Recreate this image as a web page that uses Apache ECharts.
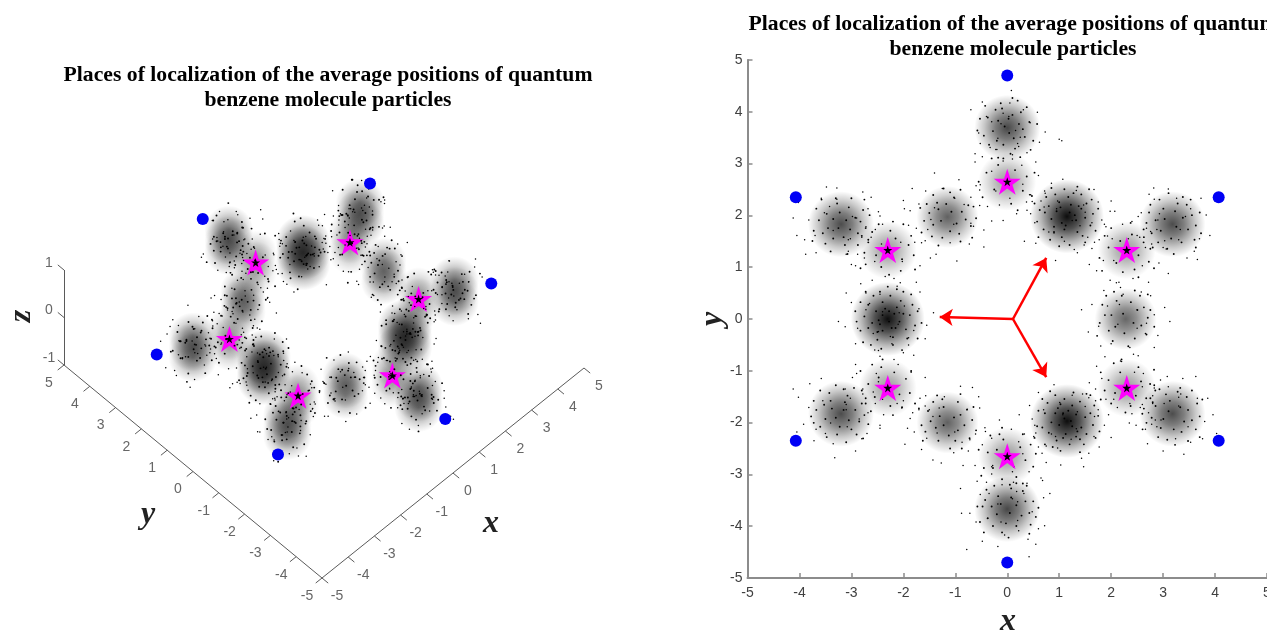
<!DOCTYPE html>
<html><head><meta charset="utf-8">
<style>html,body{margin:0;padding:0;background:#fff}#c{width:1267px;height:632px}</style>
<script src="https://cdn.jsdelivr.net/npm/echarts@6/dist/echarts.min.js"></script>
</head><body><div id="c"></div>
<script>
const titleText='Places of localization of the average positions of quantum\nbenzene molecule particles';
const axisTicks=[-5,-4,-3,-2,-1,0,1,2,3,4,5];
const zTicks=[-1,0,1];
const blueX=[0,4.07,4.07,0,-4.07,-4.07];
const blueY=[4.7,2.35,-2.35,-4.7,-2.35,2.35];
const starX=[0,2.3,2.3,0,-2.3,-2.3];
const starY=[2.65,1.33,-1.33,-2.65,-1.33,1.33];
const arrowOrigin=[0.11,0];
const arrowTips=[[0.75,1.18],[-1.3,0.04],[0.75,-1.12]];
const centerX=[0,0,1.15,2.3,3.18,2.28,2.3,3.18,1.15,0,0,-1.15,-2.3,-3.2,-2.3,-2.3,-3.2,-1.15];
const centerY=[3.69,2.65,1.98,1.33,1.83,0,-1.33,-1.83,-1.97,-2.65,-3.67,-2,-1.33,-1.83,0,1.33,1.83,1.97];
const coreAlpha=[.72,.4,.95,.4,.7,.6,.4,.7,.95,.4,.72,.62,.4,.7,.95,.4,.7,.62];
const coreSpan=[66,58,74,58,66,62,58,66,74,58,66,62,58,66,74,58,66,62];
// outer dot offsets from each cloud centre, hundredths of a unit: x,y,z triples
const cloud0=[-12,8,20,25,-18,-30,-40,22,11,5,48,-25,31,35,14,-55,-10,35,62,-28,-12,-22,-42,40,10,-60,-5,44,10,30,-70,35,-20,16,-5,-48,-33,-38,5,58,30,22,-8,28,52,105,-25,10,-48,50,-30,73,-8,18,-18,-20,-38,38,-48,-14,3,22,28,-30,12,-55,100,-22,30,-62,-50,15,20,-30,-44,-52,-30,24,8,72,6,-35];
const cloud1=[-30,20,15,28,32,-22,-52,-6,30,45,-25,8,-15,-45,-35,10,52,22,60,12,-40,-62,38,10,-38,-48,-8,38,-55,42,-8,40,-50,55,38,18,-48,48,-22,18,-62,5,-20,62,-30,72,-18,25,-70,-30,-15,5,-32,28,30,-5,-40,-22,-18,48,48,-38,-28,-60,-8,12,22,68,8,-8,-75,20];
const cloud2=[10,-8,-35,-20,15,28,32,22,10,-35,-30,-22,48,-12,42,-50,30,-35,18,50,-8,-5,-48,22,60,28,-25,-62,-12,8,40,-40,30,-42,45,18,-70,5,-32,72,-15,10,20,-70,-45,-30,64,25,52,52,-14,-60,-52,35,25,-18,-10,-18,30,40,-82,-48,-25,85,30,18,-44,18,-55,14,-64,30,-8,72,-10,62,-45,-22,-25,-32,16,35,8,-48,-72,42,12,78,-38,-30,-22,-85,18,48,-62,40,-78,28,-5,92,10,35];
const cloud3=[-28,22,18,30,-30,28,-45,-20,-32,48,12,-18,-8,50,-40,12,-55,32,62,-25,10,-62,15,12,-40,45,-24,38,42,35,-15,-62,-12,58,40,20,-58,-40,38,70,5,-36,-72,-28,-4,22,65,8,-25,-20,-42,25,25,-8,-12,-72,28,80,-45,15,-48,58,30,-32,75,-20,42,-62,-25,-82,10,30];
const cloud4=[15,-10,30,-25,20,-22,35,30,-18,-42,-14,28,8,50,-36,52,-28,14,-12,-48,40,-60,22,-8,65,18,-32,-35,48,10,42,-52,25,-68,-22,34,28,-65,-10,72,-22,6,-8,68,-28,-52,-45,-30,55,50,22,-78,5,-40,82,45,8,12,-30,-38,-28,8,18,25,15,-12,-15,-32,38,90,58,-15,-36,70,32,48,-68,-20,-45,58,-12,-85,-28,20];
const cloud5=[-15,-10,25,22,18,-30,-35,25,12,38,-28,30,-5,48,-42,8,-55,34,-52,-14,-22,55,8,-8,-28,-48,40,30,52,15,62,-32,-25,-65,28,20,-42,55,-34,48,45,32,-18,70,10,15,-68,-18,75,22,14,-72,-25,-12,-48,-52,22,55,-55,-32,-30,75,28,85,-5,25,-8,-82,-20,-85,18,8,22,-18,-8,-12,28,-30,40,-8,-40];
const cloud6=[-25,-22,20,32,28,-28,-48,18,-12,50,-15,35,10,-50,-30,-12,52,22,-60,-25,30,65,15,-18,-35,-52,-42,42,-48,12,-58,42,-8,22,62,-32,72,-30,30,-72,10,-22,5,-68,38,-18,-38,5,30,-32,-24,15,30,-36,78,22,12,-42,60,28,48,-70,-25,-62,-55,16,-85,-12,-10,55,-62,40];
const cloud7=[12,15,-22,-22,-12,32,30,-25,18,-38,20,-30,6,-48,38,48,30,-18,-52,-30,22,-8,52,14,62,-15,30,-62,12,-28,35,-55,-40,-35,50,38,68,30,-8,-70,-22,15,20,68,-30,-48,-58,8,58,-48,26,-18,-72,-18,78,-2,34,-82,20,28,22,-78,-42,45,72,-12,-30,-25,-38,16,38,40,-58,52,-30,85,-38,-5,12,32,44];
const cloud8=[-8,12,-30,18,-15,28,-30,-25,35,35,28,-12,-45,22,-40,10,50,22,-18,-52,-18,52,-30,38,60,22,-35,-62,-8,15,-40,-48,45,42,45,8,-72,30,-25,72,-8,30,-25,70,32,28,-72,-48,-55,55,-8,62,-50,-20,-82,-25,28,85,-32,12,-12,-85,-36,42,-62,-42,-48,-62,20,75,42,-12,20,18,-15,-22,-30,-10,-14,36,40,8,-35,-15,55,62,28,-64,-30,45,32,-88,22,-92,12,-18];
const cloud9=[22,28,-18,-30,-20,30,42,-30,-32,-48,22,12,8,52,35,-10,-55,-30,60,18,25,-62,-18,-12,38,-52,40,-42,48,-28,55,45,-8,-58,-48,20,18,-68,-22,-15,70,15,75,-12,-38,-72,32,28,-28,-18,-8,30,5,42,10,-30,-40,-35,-72,18,65,-42,-15,-85,-18,8,48,72,-22,20,-88,30];
const cloud10=[-18,10,25,20,-22,-28,-38,-18,30,32,30,-15,-5,-50,-32,48,-5,42,-52,28,10,12,52,-42,60,-38,-12,-60,-25,-30,40,-58,22,-40,52,38,70,22,12,-72,-8,-20,-18,-72,36,82,30,-25,-30,68,-8,55,-68,-34,-48,-62,14,-88,-8,20,-78,-78,10,42,-92,-24,68,55,25,72,-32,-38,10,20,-10,-12,-25,18,22,-42,42,-90,40,8];
const cloud11=[14,-18,30,-28,12,-25,38,26,8,-40,-30,28,-6,50,-35,54,-22,-12,-55,25,18,12,-58,38,62,28,-22,-64,-18,8,-42,52,30,40,-55,-30,72,-10,24,-72,8,-36,-28,-72,-15,25,70,12,-50,-52,-30,60,50,22,85,-30,8,-82,-42,28,-20,-20,-12,28,-38,44,-16,28,-35,-12,-78,30,-88,28,-12,48,68,-22];
const cloud12=[-22,28,20,30,-25,-30,-48,-12,-20,45,30,15,-8,-52,38,12,55,-28,-60,28,22,62,-20,-12,-38,-48,-35,48,-48,30,-62,45,-10,30,68,15,72,20,-24,-72,-20,30,-15,-72,12,-28,-8,-38,18,-30,30,72,-35,8,-80,-42,-12,-18,72,-30,80,-42,22,38,-78,-25];
const cloud13=[10,18,-28,-20,-18,30,35,-10,22,-35,25,-20,8,48,35,-48,-30,14,50,-38,-25,-62,12,-8,66,20,18,-15,-58,-32,-52,-52,32,42,48,-14,-72,-20,-34,75,-28,28,22,70,12,-38,68,-28,28,-72,38,-82,32,8,-85,-35,22,80,28,-38,-12,-85,-22,-92,48,34,-30,-38,-30,40,-48,48,-60,58,22,12,-25,-42,72,62,10];
const cloud14=[-10,14,28,20,-10,-32,-28,-28,25,32,25,10,-42,18,-38,8,-48,40,-15,48,-18,50,-22,-30,-58,-18,22,60,20,24,-25,-60,-28,40,-50,12,-42,50,36,24,70,-10,-70,32,-15,75,-12,32,-15,-72,28,-62,-48,-28,62,52,-22,-82,-15,12,88,12,-30,-5,82,34,-80,50,-30,50,-70,20,20,-88,-8,-52,68,-42,-95,-5,10,72,-38,-24,22,12,-15,-18,-24,-12,5,-34,38,40,-36,28,-35,30,-36];
const cloud15=[28,-22,20,-32,25,-28,-45,-15,18,52,15,-32,-10,50,38,12,-55,-18,-62,-30,30,62,-30,14,-42,45,-36,40,48,22,-15,66,-10,18,-70,32,72,18,-26,-72,22,10,-25,-22,-42,25,15,40,-30,-58,-22,-80,-8,18,82,-15,12,-60,62,-32,55,-62,24,32,80,-18];
const cloud16=[-15,-12,25,22,15,-28,-32,22,18,40,-25,-18,-8,48,-34,-50,-22,12,52,30,28,14,-52,36,-62,8,-25,66,-10,20,-38,50,38,32,-58,-12,-70,-30,20,72,24,-40,-8,70,30,-48,-55,-22,58,52,-10,78,-38,24,-85,-22,-12,-28,72,8,-82,42,30,20,-78,-32,42,62,42,-68,-58,-28,14,-30,-30,-22,34,40,-92,12,-8];
const cloud17=[12,-14,-28,-25,18,30,32,24,-14,-38,-24,26,5,-50,-36,50,-18,14,-55,25,-18,-10,55,40,62,22,-25,-60,-22,10,42,-52,32,-42,50,-30,70,-25,-12,-72,12,30,22,72,18,-22,-72,-34,-50,-50,22,62,52,8,85,-8,-28,-85,32,-18,18,-85,28,-25,85,-15,45,-12,-32,-32,-5,-30,14,36,22,-68,55,12,70,-58,-30];
const clouds=[cloud0,cloud1,cloud2,cloud3,cloud4,cloud5,cloud6,cloud7,cloud8,cloud9,cloud10,cloud11,cloud12,cloud13,cloud14,cloud15,cloud16,cloud17];
// inner dot offsets, eightieths of a unit: x,y pairs
const inner0=[3,-8,-14,11,18,6,-22,-5,8,20,-6,-26,27,-14,-30,16,12,-32,-18,28,34,9,-36,-12,21,24,-10,38,5,-40,-28,-26,40,-20,-42,14,16,42,30,32,-4,2,10,-16,-16,-20,24,-2,-8,30,2,14,-34,34,36,-34,-46,-4,46,6,-14,-46,8,46];
const inner1=[12,18,-20,-12,24,-14,-14,26,30,8,-32,14,6,-34,-6,36,38,-22,-38,-24,20,38,-24,36,42,14,-44,0,16,-44];
const inner2=[4,6,-8,-10,14,-6,-16,8,6,18,-4,-20,22,12,-24,-4,-12,22,16,-24,28,-2,-28,16,2,30,-20,-24,30,20,-8,-32,-34,6,24,-30,10,36,36,-14,-36,-20,-18,34,22,34,40,4,-42,10,-4,42,4,-44,-32,30,38,26,-26,-36,44,-22,28,-40,-46,-8,-12,-46,16,46,-24,44,48,12,-50,20,34,42,-44,-32,12,2,-10,14,-2,-14,18,16,-20,-16];
const inner3=[-10,14,18,-8,-16,-20,8,24,26,12,-28,4,12,-30,-6,-34,34,-18,-34,22,26,32,-24,34,40,4,-42,-12,6,42,18,-42,-38,-32,42,-28];
const inner4=[6,-4,-12,8,16,10,-18,-10,4,20,-2,-22,24,-8,-26,6,-14,24,14,-28,30,14,-32,-14,8,32,-22,-28,36,-2,-36,18,22,30,-8,-38,34,-24,-40,2,-20,38,16,42,42,18,-44,-20,44,-14,2,-46,-6,48,-34,30,36,-36,-34,-38,28,38];
const inner5=[-4,8,12,-6,-16,-12,18,14,-2,-22,-22,6,24,-10,8,26,-26,-18,28,18,-14,28,14,-30,-32,6,34,2,-6,36,-20,-34,32,-24,-36,22,22,36,38,14,-40,-6,4,-42,-18,42,44,-12,-44,-26,14,44,-30,36,34,38];
const inner6=[14,-12,-18,-8,22,10,-10,24,6,-28,-28,12,30,-16,-24,-24,18,32,-34,-4,36,6,-2,-38,-20,38,40,-22,-40,-18,24,-40,-40,24,42,28,-8,44,44,-4];
const inner7=[-6,4,12,10,-14,-8,18,-12,-4,20,2,-24,24,6,-26,12,-18,-22,14,-28,-10,30,30,-10,-32,-6,22,26,8,34,-34,24,-22,-36,36,-24,38,16,-8,-40,-40,-14,12,40,42,-4,-20,38,-44,8,24,-42,30,36,-46,-24,46,22,-28,44,4,-48,42,-36];
const inner8=[-4,4,8,-8,-12,-6,14,10,2,16,-2,-20,-18,12,22,-10,8,24,-24,-2,14,-24,-10,26,28,6,-28,-18,-16,-30,30,-20,-4,34,20,30,-34,12,4,-36,36,12,-30,28,-38,-10,40,-6,26,-36,-18,40,-22,-40,10,44,42,24,-44,16,-10,-46,44,-26,-34,-36,30,42,-46,-8,48,8,-26,46,20,-48,50,-16,-50,-26,36,40,-38,34,6,0,-6,12,16,-16,-14,20,20,-28,-6,-26];
const inner9=[10,-16,-16,10,20,14,-22,-18,-6,26,28,-6,-30,6,14,-32,-12,34,36,18,-36,-18,24,34,-26,32,40,-16,-40,-30,4,-44,-8,44,44,4,-44,10,24,-42];
const inner10=[4,-6,-10,8,14,6,-16,-8,6,18,-2,-22,22,-10,-24,4,-14,20,14,-26,28,12,-30,-14,6,32,-22,-26,34,-6,-34,14,24,28,-8,-36,36,-24,-38,4,-20,36,14,40,40,12,-42,-20,44,-12,2,-44,-8,46,-32,30,34,-38,-36,-36,30,36,-46,4,48,2];
const inner11=[-6,-4,10,8,-12,10,16,-12,2,-20,-18,-8,20,12,-6,24,26,-4,-26,2,12,-28,-14,-28,30,20,-30,18,16,32,-8,36,-34,-14,34,-24,-22,32,38,4,-40,-4,4,-40,40,24,-38,-28,22,-40,-16,42,44,-12,-44,22,20,44];
const inner12=[-14,16,18,-10,-20,-14,10,24,4,-28,28,14,-30,6,-10,32,22,-30,34,-8,-34,-24,-24,36,36,26,-40,-4,8,-42,-8,44,42,-24,-42,26];
const inner13=[4,6,-8,-6,12,-10,-14,8,6,18,-2,-20,22,6,-24,-8,-16,20,16,-24,-26,14,28,-12,10,28,-6,-32,32,16,-32,-20,-18,32,24,-32,36,-2,-38,6,4,38,-22,-36,38,24,-42,20,20,40,42,-16,-42,-14,-8,44,8,-44,-32,36,34,-38,-46,-4,46,4];
const inner14=[2,-4,-8,6,10,8,-12,-8,6,-14,-4,16,18,-4,-18,12,14,18,-16,-20,24,8,-24,-6,-8,26,8,-28,28,-16,-30,22,20,28,-30,-14,-16,-32,34,6,-36,4,4,36,-22,36,30,-30,8,-40,38,22,-42,-18,-12,42,42,-10,-42,26,24,42,-26,-40,46,12,-10,-46,-48,-4,14,46,36,38,-38,-36,46,-30,-34,42,22,-48,-50,12,0,50,52,-6,2,12,-14,-2,12,-14,-8,-18];
const inner15=[12,18,-18,-8,22,-14,-10,-26,4,30,-30,12,32,8,-24,28,20,-32,-34,-22,36,22,-36,-4,2,-38,40,-8,-14,40,-40,22,24,40,42,-30,-42,-28,8,44];
const inner16=[-4,-6,8,6,-12,8,14,-8,-2,18,4,-20,-20,-6,22,10,-12,-22,-22,16,26,-14,12,26,-28,-14,30,4,-6,32,6,-32,-34,6,34,22,-24,-30,26,-32,-38,24,38,-6,-8,40,16,40,-42,-10,-16,-42,42,-24,-44,-26,44,14,-30,38,10,-46,36,38];
const inner17=[6,8,-10,-6,14,-10,-14,12,-2,20,4,-22,22,8,-22,-12,-16,22,18,-26,28,-4,-28,6,10,30,-8,-32,32,18,-32,20,-24,-30,-22,34,36,-14,-36,-6,4,38,20,-38,40,16,-40,-24,20,42,-42,14,-6,44,44,-2,-14,-44,38,-32];
const inners=[inner0,inner1,inner2,inner3,inner4,inner5,inner6,inner7,inner8,inner9,inner10,inner11,inner12,inner13,inner14,inner15,inner16,inner17];
// estimated heights of the inner dots, hundredths of a unit, used in turn
const innerZ=[14,-22,6,30,-8,-34,20,-14,38,2,-28,12,-42,26,-4,34,-18,8,-36,44,-12,18,-26,4,40,-6,-46,24,-20,10,32,-32,16,-2,-40,28,-10,36,-24,0,48];
const coreLevels=[-0.22,0,0.22];

// oblique view of the left panel: screen position of a data point
const view={ox:324,oy:319,xu:26.2,xv:-21,yu:-25.8,yv:-21.3,zv:-47.5};
const project=(x,y,z)=>[view.ox+view.xu*x+view.yu*y, view.oy+view.xv*x+view.yv*y+view.zv*z];

const dots3=[];
clouds.forEach((c,k)=>{for(let i=0;i+2<c.length;i+=3)dots3.push([centerX[k]+c[i]/100,centerY[k]+c[i+1]/100,c[i+2]/100]);});
const inner3d=[];
inners.forEach((c,k)=>{for(let i=0;i+1<c.length;i+=2)inner3d.push([centerX[k]+c[i]/80,centerY[k]+c[i+1]/80,innerZ[inner3d.length%innerZ.length]/100]);});
const core=(a)=>({type:'radial',x:.5,y:.5,r:.5,colorStops:[{offset:0,color:`rgba(0,0,0,${a})`},{offset:.35,color:`rgba(0,0,0,${a*.72})`},{offset:.7,color:`rgba(0,0,0,${a*.3})`},{offset:1,color:'rgba(0,0,0,0)'}]});
const STAR='path://M50,0L61.2,34.5L97.6,34.5L68.2,55.9L79.4,90.5L50,69.1L20.6,90.5L31.8,55.9L2.4,34.5L38.8,34.5Z';
const base={silent:true,animation:false};
const serif='Liberation Serif', sans='Liberation Sans';
const solid=(c)=>({color:c,opacity:1});

// right panel
const rightCores=centerX.map((x,k)=>({value:[x,centerY[k]],symbolSize:coreSpan[k],itemStyle:{color:core(coreAlpha[k]),opacity:1}}));
const right=(s)=>Object.assign({xAxisIndex:1,yAxisIndex:1},base,s);
const left=(s)=>Object.assign({xAxisIndex:0,yAxisIndex:0},base,s);
const rightSeries=[
 right({type:'scatter',data:rightCores,z:2}),
 right({type:'scatter',data:dots3.map(p=>[p[0],p[1]]),symbolSize:1.5,itemStyle:solid('#000'),z:3}),
 right({type:'scatter',data:inner3d.map(p=>[p[0],p[1]]),symbolSize:1.9,itemStyle:solid('#000'),z:3}),
 right({type:'lines',coordinateSystem:'cartesian2d',polyline:false,z:4,symbol:['none','arrow'],symbolSize:13,
   lineStyle:{color:'#f00',width:2.5,opacity:1,curveness:0},
   data:arrowTips.map(t=>({coords:[arrowOrigin,t]}))}),
 right({type:'scatter',data:blueX.map((x,i)=>[x,blueY[i]]),symbolSize:12,itemStyle:solid('#0000f5'),z:5}),
 right({type:'scatter',data:starX.map((x,i)=>[x,starY[i]]),symbol:STAR,symbolSize:[27,26],itemStyle:solid('#f0f'),z:6}),
 right({type:'scatter',data:starX.map((x,i)=>[x,starY[i]]),symbol:STAR,symbolSize:[9,9],itemStyle:solid('#000'),z:7})
];

// left panel
const P=(a,b,c)=>project(a,b,c);
const axisColor='#5a5a5a';
const segs=[];
segs.push([P(-5,-5,-1),P(5,-5,-1)],[P(-5,-5,-1),P(-5,5,-1)],[P(-5,5,-1),P(-5,5,1)]);
axisTicks.forEach(t=>{segs.push([P(t,-5,-1),P(t,-5.24,-1)]);segs.push([P(-5,t,-1),P(-5.24,t,-1)]);});
zTicks.forEach(t=>segs.push([P(-5,5,t),P(-5,5.24,t)]));
const tickLabel=(pos,txt,dx,dy)=>({value:[pos[0]+dx,pos[1]+dy],label:{formatter:String(txt)}});
const leftLabels=[];
axisTicks.forEach(t=>{leftLabels.push(tickLabel(P(t,-5,-1),t,15,18));leftLabels.push(tickLabel(P(-5,t,-1),t,-15,18));});
zTicks.forEach(t=>leftLabels.push(tickLabel(P(-5,5,t),t,-15,-7)));
const leftCores=[];
centerX.forEach((x,k)=>coreLevels.forEach(z=>leftCores.push({value:P(x,centerY[k],z),symbolSize:coreSpan[k]*.74,itemStyle:{color:core(coreAlpha[k]*.62),opacity:1}})));
const leftSeries=[
 left({type:'scatter',data:leftCores,z:2}),
 left({type:'scatter',data:starX.map((x,i)=>P(x,starY[i],0)),symbol:STAR,symbolSize:[27,26],itemStyle:solid('#f0f'),z:3}),
 left({type:'scatter',data:starX.map((x,i)=>P(x,starY[i],0)),symbol:STAR,symbolSize:[9,9],itemStyle:solid('#000'),z:3}),
 left({type:'scatter',data:dots3.map(p=>P(p[0],p[1],p[2])),symbolSize:1.5,itemStyle:solid('#000'),z:4}),
 left({type:'scatter',data:inner3d.map(p=>P(p[0],p[1],p[2])),symbolSize:1.9,itemStyle:solid('#000'),z:4}),
 left({type:'scatter',data:blueX.map((x,i)=>P(x,blueY[i],0)),symbolSize:12,itemStyle:solid('#0000f5'),z:5}),
 left({type:'lines',coordinateSystem:'cartesian2d',polyline:false,z:1,lineStyle:{color:axisColor,width:1,opacity:1},data:segs.map(s=>({coords:s}))}),
 left({type:'scatter',data:leftLabels,symbolSize:1,itemStyle:{color:'transparent'},z:6,
   label:{show:true,position:'inside',color:'#404040',fontFamily:sans,fontSize:14}})
];
const axisLabelName=(txt,x,y,rot)=>({type:'text',x,y,rotation:rot||0,originX:0,originY:0,silent:true,
  style:{text:txt,fontFamily:serif,fontStyle:'italic',fontWeight:'bold',fontSize:32,fill:'#222',align:'center',verticalAlign:'middle'}});

const chart=echarts.init(document.getElementById('c'),null,{renderer:'canvas'});
const titleStyle={fontFamily:serif,fontWeight:'bold',fontSize:21.7,color:'#000',lineHeight:25,align:'center'};
const rightAxis=(margin)=>({type:'value',min:-5,max:5,interval:1,splitLine:{show:false},
  axisLine:{onZero:false,lineStyle:{color:'#8c8c8c',width:2}},
  axisTick:{inside:true,length:5,lineStyle:{color:'#8c8c8c',width:1.5}},
  axisLabel:{margin,color:'#404040',fontFamily:sans,fontSize:14,showMinLabel:true,showMaxLabel:true,hideOverlap:false}});
chart.setOption({
 animation:false,backgroundColor:'#fff',
 title:[
  {text:titleText,left:323,top:58,textAlign:'center',textStyle:titleStyle},
  {text:titleText,left:1008,top:7,textAlign:'center',textStyle:titleStyle}
 ],
 grid:[
  {left:0,top:0,width:640,height:632,containLabel:false,outerBoundsMode:'none'},
  {left:747.5,top:60,width:519.5,height:518,containLabel:false,outerBoundsMode:'none'}
 ],
 xAxis:[
  {gridIndex:0,type:'value',min:0,max:640,show:false},
  Object.assign({gridIndex:1},rightAxis(8))
 ],
 yAxis:[
  {gridIndex:0,type:'value',min:0,max:632,inverse:true,show:false},
  Object.assign({gridIndex:1},rightAxis(5))
 ],
 series:[...leftSeries,...rightSeries],
 graphic:[
  axisLabelName('x',491,524),axisLabelName('y',148,515),axisLabelName('z',22,316,Math.PI/2),
  axisLabelName('x',1008,622),axisLabelName('y',713,319,Math.PI/2)
 ]
});
</script></body></html>
